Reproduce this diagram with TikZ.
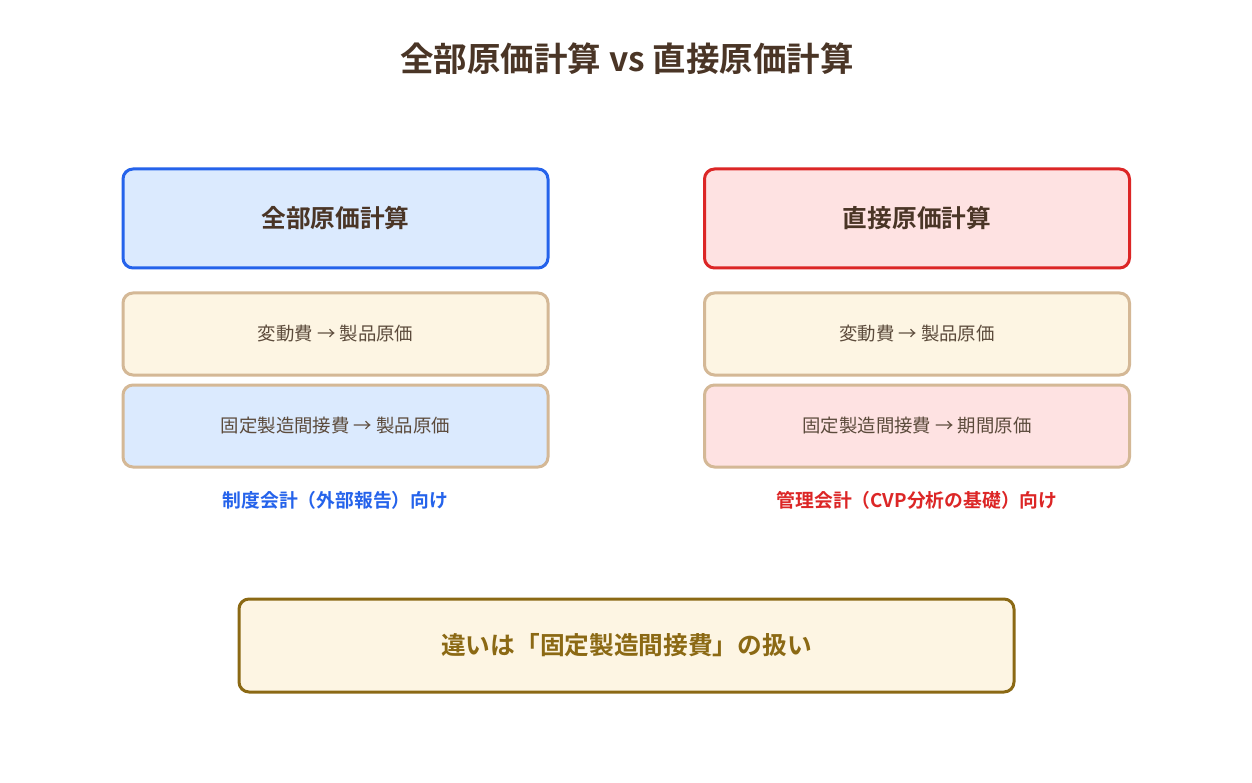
\documentclass[tikz,border=0pt]{standalone}
\usepackage{fontspec}
\setmainfont{Noto Sans CJK JP}[BoldFont={Noto Sans CJK JP Bold}]
\definecolor{titlec}{HTML}{4A3526}
\definecolor{rowtext}{HTML}{5C4B3C}
\definecolor{bluec}{HTML}{2563EB}
\definecolor{bluef}{HTML}{DBEAFE}
\definecolor{redc}{HTML}{DC2626}
\definecolor{redf}{HTML}{FEE2E2}
\definecolor{tan}{HTML}{D4B896}
\definecolor{cream}{HTML}{FDF5E3}
\definecolor{gold}{HTML}{8B6914}
\tikzset{
  box/.style={draw, line width=3pt, rounded corners=10pt, minimum width=425pt, inner sep=0pt},
  headbox/.style={box, minimum height=99pt, font=\fontsize{24.7}{28}\selectfont\bfseries, text=titlec},
  rowbox/.style={box, draw=tan, minimum height=82pt, font=\fontsize{18.4}{22}\selectfont, text=rowtext},
  lbl/.style={font=\fontsize{18.8}{22}\selectfont\bfseries, inner sep=0pt},
}
\begin{document}
\begin{tikzpicture}[x=1pt,y=-1pt]
\useasboundingbox[fill=white] (0,0) rectangle (1252,783);
\node[font=\fontsize{33.5}{38}\selectfont\bfseries, text=titlec] (title) at (627,59) {全部原価計算 vs 直接原価計算};

\node[headbox, draw=bluec, fill=bluef] (lh) at (335.5,218.5) {全部原価計算};
\node[headbox, draw=redc, fill=redf] (rh) at (917,218.5) {直接原価計算};

\node[rowbox, fill=cream] (l1) at (335.5,334) {変動費 → 製品原価};
\node[rowbox, fill=bluef] (l2) at (335.5,426) {固定製造間接費 → 製品原価};
\node[rowbox, fill=cream] (r1) at (917,334) {変動費 → 製品原価};
\node[rowbox, fill=redf] (r2) at (917,426) {固定製造間接費 → 期間原価};

\node[lbl, text=bluec] (ll) at (335.5,500) {制度会計（外部報告）向け};
\node[lbl, text=redc] (rl) at (917,500) {管理会計（CVP分析の基礎）向け};

\node[box, draw=gold, fill=cream, minimum width=775pt, minimum height=93pt, font=\fontsize{24.7}{28}\selectfont\bfseries, text=gold] (diff) at (626.5,645.5) {違いは「固定製造間接費」の扱い};
\end{tikzpicture}
\end{document}
